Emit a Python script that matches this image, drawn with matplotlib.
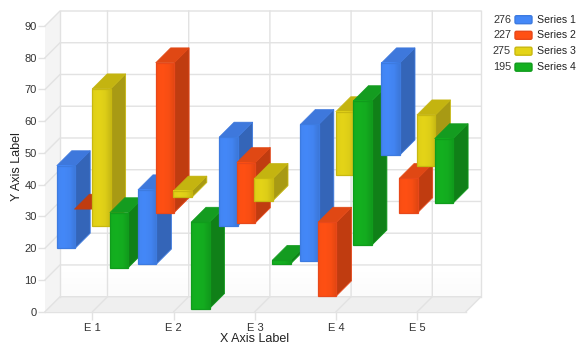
import numpy as np
import matplotlib
matplotlib.use("Agg")
import matplotlib.pyplot as plt
from matplotlib.patches import Polygon, Rectangle, FancyBboxPatch
from matplotlib.colors import to_rgb

plt.rcParams['font.family'] = ['Liberation Sans', 'DejaVu Sans']

categories = ["E 1", "E 2", "E 3", "E 4", "E 5"]
series_names = ["Series 1", "Series 2", "Series 3", "Series 4"]
legend_values = ["276", "227", "275", "195"]

# floating bars, (low, high) per category
s1_low = [20, 15, 27, 16, 49.4]
s1_high = [46, 38.4, 55, 59, 78.4]
s2_low = [32.3, 31.2, 28, 5, 31.2]
s2_high = [32.3, 78.4, 47, 28.2, 42]
s3_low = [27.1, 36, 35, 43, 46]
s3_high = [70.2, 38, 42, 63, 62]
s4_low = [13.9, 1, 15.1, 21, 34.2]
s4_high = [31.2, 28.2, 16.2, 66.5, 54.5]

lows = [s1_low, s2_low, s3_low, s4_low]
highs = [s1_high, s2_high, s3_high, s4_high]

front = ["#4488f8", "#ff5014", "#e4d418", "#14b020"]
top = ["#3e78dc", "#e04814", "#c4b410", "#149c20"]
side = ["#3465b8", "#c03c10", "#a89a14", "#108018"]
edge = ["#3d7be0", "#e8481a", "#c8b810", "#109c1c"]

W, H = 585, 352
left, right, bottom, upper = 45, 466, 311.7, 26
fig = plt.figure(figsize=(W / 100, H / 100), dpi=100)
ax = fig.add_axes([left / W, 1 - bottom / H, (right - left) / W, (bottom - upper) / H])

x0, x1 = -0.585, 4.6
ymax = 90
ax.set_xlim(x0, x1)
ax.set_ylim(0, ymax)
ax.patch.set_alpha(0)
for s in ax.spines.values():
    s.set_visible(False)

# depth of the fake 3d, 15 px in data units
dx = 15 * (x1 - x0) / (right - left)
dy = 15 * ymax / (bottom - upper)

grid = "#e2e2e2"
lw = 1.0

# walls
ax.add_patch(Polygon([(x0, 0), (x0 + dx, dy), (x0 + dx, ymax + dy), (x0, ymax)],
                     fc="#f4f4f4", ec="none", clip_on=False, zorder=1))
ax.add_patch(Polygon([(x0, 0), (x1, 0), (x1 + dx, dy), (x0 + dx, dy)],
                     fc="#efefef", ec="none", clip_on=False, zorder=1))
ax.imshow(np.linspace(0.98, 1, 32).reshape(-1, 1), cmap="gray", vmin=0, vmax=1,
          extent=(x0 + dx, x1 + dx, dy, dy + 10), origin="lower", aspect="auto", clip_on=False, zorder=1)

# grid lines on the walls and floor
yt = np.arange(0, 100, 10)
for v in yt:
    ax.plot([x0, x0 + dx, x1 + dx], [v, v + dy, v + dy], color=grid, lw=lw, clip_on=False, zorder=2)
for i in range(len(categories)):
    ax.plot([i, i + dx, i + dx], [0, dy, ymax + dy], color=grid, lw=lw, clip_on=False, zorder=2)
ax.plot([x0 + dx, x0 + dx], [dy, ymax + dy], color=grid, lw=lw, clip_on=False, zorder=2)
ax.plot([x1 + dx, x1 + dx], [dy, ymax + dy], color=grid, lw=lw, clip_on=False, zorder=2)
ax.plot([x1, x1 + dx], [0, dy], color=grid, lw=lw, clip_on=False, zorder=2)
ax.plot([x0, x1], [0, 0], color=grid, lw=lw, clip_on=False, zorder=2)

# bars
pitch = 0.218
width = 0.228
shade = np.interp(np.linspace(0, 1, 24), [0, 0.35, 0.7, 1], [0.98, 1.0, 0.97, 0.88])
z = 3
for i in range(len(categories)):
    for j in range(len(series_names)):
        lo, hi = lows[j][i], highs[j][i]
        xa = i + (j - 1.5) * pitch - width / 2
        xb = xa + width
        # zero height bars only show the dark face
        top_col = side[j] if hi == lo else top[j]
        ax.add_patch(Polygon([(xb, lo), (xb + dx, lo + dy), (xb + dx, hi + dy), (xb, hi)],
                             fc=side[j], ec=edge[j], lw=0.6, clip_on=False, zorder=z))
        ax.add_patch(Polygon([(xa, hi), (xb, hi), (xb + dx, hi + dy), (xa + dx, hi + dy)],
                             fc=top_col, ec=top_col, lw=0.4, clip_on=False, zorder=z))
        if hi > lo:
            grad = np.outer(shade, to_rgb(front[j])).reshape(1, -1, 3)
            ax.imshow(grad, extent=(xa, xb, lo, hi), aspect="auto", clip_on=False, zorder=z,
                      interpolation="bilinear")
            ax.add_patch(Rectangle((xa, lo), width, hi - lo, fc="none", ec=edge[j], lw=0.9,
                                   clip_on=False, zorder=z))
        z += 1

ax.set_xlim(x0, x1)
ax.set_ylim(0, ymax)
ax.set_yticks(yt)
ax.set_xticks(range(len(categories)))
ax.set_xticklabels(categories)
ax.tick_params(axis="y", length=5, width=1, color=grid, pad=1, labelsize=8, labelcolor="#333333")
ax.tick_params(axis="x", length=6, width=1, color=grid, pad=2, labelsize=8, labelcolor="#333333")

fig.text(255 / W, 1 - 339 / H, "X Axis Label", ha="center", va="center", fontsize=9, color="#222222")
fig.text(17 / W, 1 - 167 / H, "Y Axis Label", ha="center", va="center", rotation=90, fontsize=9, color="#222222")

# legend
rows = [19.7, 35.3, 51.2, 67.2]
for name, val, fc, ec, yy in zip(series_names, legend_values, front, edge, rows):
    fig.text(511 / W, 1 - yy / H, val, ha="right", va="center", fontsize=7.8, color="#333333")
    fig.add_artist(FancyBboxPatch((515, H - yy - 4), 17, 8, boxstyle="round,pad=0,rounding_size=1.5",
                                  fc=fc, ec=ec, lw=1, transform=None))
    fig.text(537 / W, 1 - yy / H, name, ha="left", va="center", fontsize=7.6, color="#222222")

fig.savefig("out.png", dpi=100)
